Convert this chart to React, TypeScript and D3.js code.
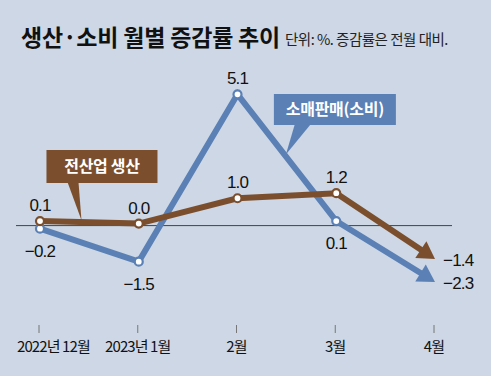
import React, { useEffect, useRef } from "react";
import * as d3 from "d3";

const categories = ["2022년 12월", "2023년 1월", "2월", "3월", "4월"];
const production = [0.1, 0.0, 1.0, 1.2, -1.4];
const retail = [-0.2, -1.5, 5.1, 0.1, -2.3];
const productionLabels = ["0.1", "0.0", "1.0", "1.2", "−1.4"];
const retailLabels = ["−0.2", "−1.5", "5.1", "0.1", "−2.3"];
const productionPlace = ["above", "above", "above", "above", "right"];
const retailPlace = ["below", "below", "above", "below", "right"];
const seriesNames = ["전산업 생산", "소매판매(소비)"];
const title = "생산·소비 월별 증감률 추이";
const subtitle = "단위: %. 증감률은 전월 대비.";

const W = 491;
const H = 376;
const BG = "#cdd7e5";
const BROWN = "#7b4f2d";
const BLUE = "#5b80b5";
const NUM_FONT = "'Liberation Sans', Arial, sans-serif";
const KR_FONT = "'Noto Sans CJK KR', 'Noto Sans', sans-serif";

export default function App() {
  const ref = useRef<SVGSVGElement>(null);

  useEffect(() => {
    const svg = d3.select(ref.current);
    svg.selectAll("*").remove();

    svg.append("rect").attr("width", W).attr("height", H).attr("fill", BG);

    const x = d3.scalePoint<string>().domain(categories).range([40, 435]);
    const y = d3.scaleLinear().domain([0, 5.1]).range([223.6, 94.3]);

    // title
    svg.append("text").text(title).attr("x", 21).attr("y", 46)
      .attr("font-family", KR_FONT).attr("font-weight", 700).attr("font-size", 23)
      .attr("letter-spacing", -0.2).attr("fill", "#111");
    svg.append("text").text(subtitle).attr("x", 285).attr("y", 45)
      .attr("font-family", KR_FONT).attr("font-size", 14.5).attr("fill", "#222")
      .attr("letter-spacing", -0.5);

    // baseline
    svg.append("line").attr("x1", 16).attr("x2", 452)
      .attr("y1", y(0) + 2).attr("y2", y(0) + 2)
      .attr("stroke", "#444").attr("stroke-width", 1);

    // x axis ticks
    const axisG = svg.append("g");
    categories.forEach((c) => {
      const tx = (x(c) as number) - 1;
      axisG.append("line").attr("x1", tx).attr("x2", tx).attr("y1", 325).attr("y2", 333)
        .attr("stroke", "#777").attr("stroke-width", 1);
      const t = axisG.append("text").text(c).attr("x", tx).attr("y", 352)
        .attr("text-anchor", "middle").attr("font-family", KR_FONT).attr("font-size", 15)
        .attr("letter-spacing", -0.9).attr("fill", "#111");
      const node = t.node() as SVGTextElement;
      const w = node.getComputedTextLength();
      if (tx - w / 2 < 17) t.attr("x", 17 + w / 2);
    });

    const step = x.step();

    const callout = (
      text: string, color: string, bx: number, by: number, bw: number, bh: number,
      p1: number, p2: number, tip: [number, number], fs: number
    ) => {
      const g = svg.append("g");
      g.append("path")
        .attr("d", `M${p1},${by + bh - 1}L${p2},${by + bh - 1}L${tip[0]},${tip[1]}Z`)
        .attr("fill", color);
      g.append("rect").attr("x", bx).attr("y", by).attr("width", bw).attr("height", bh)
        .attr("fill", color);
      g.append("text").text(text).attr("x", bx + bw / 2).attr("y", by + bh / 2 + fs * 0.36)
        .attr("text-anchor", "middle").attr("font-family", KR_FONT).attr("font-weight", 700)
        .attr("font-size", fs).attr("fill", "#fff").attr("letter-spacing", -0.3);
    };

    const drawSeries = (vals: number[], color: string, labels: string[], place: string[]) => {
      const pts: [number, number][] = vals.map((v, i) => [x(categories[i]) as number, y(v)]);
      const n = pts.length;
      const [lx, ly] = pts[n - 1];
      const [px, py] = pts[n - 2];
      const dx = lx - px, dy = ly - py;
      const len = Math.hypot(dx, dy);
      const ux = dx / len, uy = dy / len;
      const headLen = 17, headW = 10;
      const bx = lx - ux * headLen, by = ly - uy * headLen;
      const linePts = pts.slice(0, n - 1).concat([[bx + ux * 2, by + uy * 2]]);
      svg.append("path").attr("d", d3.line()(linePts) as string)
        .attr("fill", "none").attr("stroke", color).attr("stroke-width", 6)
        .attr("stroke-linejoin", "miter");
      svg.append("path")
        .attr("d", `M${lx},${ly}L${bx - uy * headW},${by + ux * headW}L${bx + uy * headW},${by - ux * headW}Z`)
        .attr("fill", color);
      pts.slice(0, n - 1).forEach(([cx, cy]) => {
        svg.append("circle").attr("cx", cx).attr("cy", cy).attr("r", 4)
          .attr("fill", "#fff").attr("stroke", color).attr("stroke-width", 2.2);
      });
      pts.forEach(([cx, cy], i) => {
        const p = place[i];
        let tx = cx, ty = cy, anchor = "middle";
        if (p === "above") ty = cy - 10;
        else if (p === "below") ty = cy + 28;
        else { tx = cx + 8; ty = cy + 7; anchor = "start"; }
        svg.append("text").text(labels[i]).attr("x", tx).attr("y", ty)
          .attr("text-anchor", anchor).attr("font-family", NUM_FONT).attr("font-size", 17)
          .attr("letter-spacing", -0.8).attr("fill", "#111");
      });
      return pts;
    };

    const rp = drawSeries(retail, BLUE, retailLabels, retailPlace);
    const pp = drawSeries(production, BROWN, productionLabels, productionPlace);

    const bt: [number, number] = [pp[0][0] + step * 0.42, (pp[0][1] + pp[1][1]) / 2 - 2];
    callout(seriesNames[0], BROWN, bt[0] - 35, 150, 111, 33, bt[0] - 14, bt[0] - 3, bt, 16);
    const f = 0.49;
    const btip: [number, number] = [rp[2][0] + (rp[3][0] - rp[2][0]) * f, rp[2][1] + (rp[3][1] - rp[2][1]) * f - 2];
    callout(seriesNames[1], BLUE, btip[0] - 12, 94, 122, 31, btip[0] + 9, btip[0] + 25, btip, 16);
  }, []);

  return (
    <svg ref={ref} width={W} height={H}
      style={{ position: "absolute", left: 0, top: 0, display: "block" }} />
  );
}
